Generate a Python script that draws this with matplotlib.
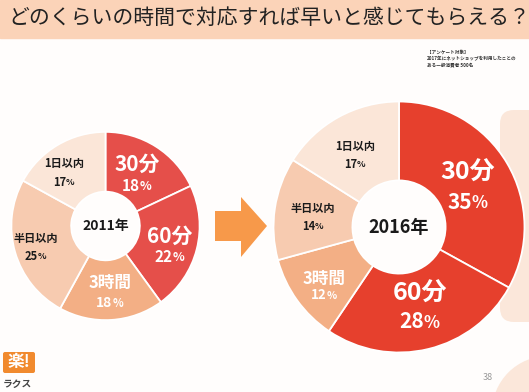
import matplotlib
matplotlib.use("Agg")
import matplotlib.pyplot as plt
from matplotlib.patches import Rectangle, FancyBboxPatch, Circle, Polygon

plt.rcParams['font.family'] = ['Noto Sans CJK JP', 'DejaVu Sans']

W, H = 529, 392

categories = ["30分", "60分", "3時間", "半日以内", "1日以内"]
values_2011 = [18, 22, 18, 25, 17]
values_2016 = [35, 28, 12, 14, 17]
years = ["2011年", "2016年"]
title = "どのくらいの時間で対応すれば早いと感じてもらえる？"
note_lines = ["【アンケート対象】", "2017年にネットショップを利用したことの", "ある一般消費者 500名"]

colors_2011 = ["#E54F4A", "#E54F4A", "#F3AF85", "#F7CBB0", "#FBE6D8"]
colors_2016 = ["#E6402D", "#E6402D", "#F3AF85", "#F7CBB0", "#FBE6D8"]

fig = plt.figure(figsize=(W / 100, H / 100), dpi=100)
fig.patch.set_facecolor("#FFFDFC")

# background overlay axes in pixel coordinates
bg = fig.add_axes([0, 0, 1, 1])
bg.set_xlim(0, W)
bg.set_ylim(H, 0)
bg.axis("off")
bg.add_patch(Rectangle((0, 0), W, 38, color="#FBD3B8", zorder=0))
bg.add_patch(FancyBboxPatch((500, 110), 60, 212, boxstyle="round,pad=0,rounding_size=14",
                            color="#FBE7DA", lw=0, zorder=0))
bg.add_patch(Circle((548, 412), 56, color="#FBE7DA", lw=0, zorder=0))
bg.add_patch(Polygon([(215, 211), (241, 211), (241, 197), (267, 226), (241, 257), (241, 241), (215, 241)],
                     closed=True, color="#F7994A", lw=0, zorder=1))
bg.text(8, 18, title, fontsize=15, color="#222222", va="center", ha="left")
for i, line in enumerate(note_lines):
    bg.text(427, 52 + i * 6.2, line, fontsize=3.3, color="#333333", va="center", ha="left",
            fontweight="bold")
# logo
bg.add_patch(FancyBboxPatch((3, 352), 32, 21, boxstyle="round,pad=0,rounding_size=2",
                            color="#F18A2E", lw=0))
bg.text(19, 362.5, "楽!", fontsize=12, color="white", ha="center", va="center", fontweight="bold")
bg.text(3, 384, "ラクス", fontsize=7, color="#444444", ha="left", va="center", fontweight="bold")
bg.text(488, 377, "38", fontsize=6.5, color="#999999", ha="center", va="center")


def donut(cx, cy, r, rin, vals, cols):
    ax = fig.add_axes([(cx - r) / W, (H - cy - r) / H, 2 * r / W, 2 * r / H])
    ax.pie(vals, colors=cols, startangle=90, counterclock=False, radius=1,
           wedgeprops=dict(width=1 - rin / r, edgecolor="white", linewidth=1.3))
    ax.set_xlim(-1.02, 1.02)
    ax.set_ylim(-1.02, 1.02)
    ax.set_aspect("equal")
    ax.axis("off")
    return ax


donut(105.5, 226, 96, 35, values_2011, colors_2011)
donut(399, 227, 128, 47.5, values_2016, colors_2016)

fg = fig.add_axes([0, 0, 1, 1])
fg.set_xlim(0, W)
fg.set_ylim(H, 0)
fg.axis("off")
fg.patch.set_alpha(0)


def label(x, y, name, pct, size_name, size_pct, color, dy):
    fg.text(x, y, name, fontsize=size_name, color=color, ha="center", va="center",
            fontweight="bold", zorder=5)
    s = f"{pct}"
    fg.text(x + size_pct * 0.25, y + dy, s, fontsize=size_pct, color=color, ha="right",
            va="center", fontweight="bold", zorder=5)
    fg.text(x + size_pct * 0.25, y + dy + size_pct * 0.08, "%", fontsize=size_pct * 0.8,
            color=color, ha="left", va="center", fontweight="bold", zorder=5)


dark = "#1A1A1A"
# 2011 labels
pos_2011 = [(137, 164), (170, 236), (110, 283), (36, 238), (64, 163)]
style_2011 = [(15, 11, "white", 22), (15, 11, "white", 21), (12, 10, "white", 20),
              (8, 8, dark, 18), (8, 8, dark, 19)]
for (x, y), cat, v, (sn, sp, c, dy) in zip(pos_2011, categories, values_2011, style_2011):
    label(x, y, cat, v, sn, sp, c, dy)

pos_2016 = [(468, 173), (420, 294), (324, 279), (313, 208), (355, 146)]
style_2016 = [(18, 15, "white", 29), (18, 15, "white", 28), (12, 9.5, "white", 16),
              (8, 8, dark, 18), (8, 8, dark, 18)]
for (x, y), cat, v, (sn, sp, c, dy) in zip(pos_2016, categories, values_2016, style_2016):
    label(x, y, cat, v, sn, sp, c, dy)

fg.text(105.5, 226, years[0], fontsize=10, color=dark, ha="center", va="center", fontweight="bold")
fg.text(399, 227, years[1], fontsize=13, color=dark, ha="center", va="center", fontweight="bold")

fig.savefig("out.png", dpi=100, facecolor=fig.get_facecolor())
